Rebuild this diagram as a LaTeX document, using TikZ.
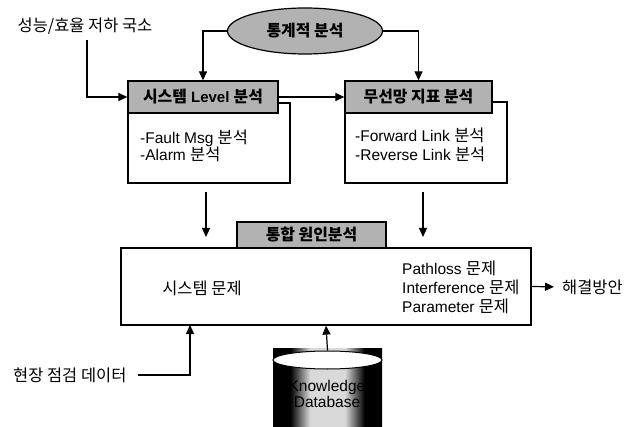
\documentclass[tikz,border=0pt]{standalone}
\usepackage{fontspec}
\setmainfont{Liberation Sans}
\newfontfamily\kr[Scale=1.06]{Noto Sans CJK KR}
\usetikzlibrary{arrows.meta,shapes.geometric,calc}
\newcommand\K[1]{{\kr #1}}
\pgfdeclarehorizontalshading{cylshade}{100bp}{color(0bp)=(black); color(33bp)=(black); color(42bp)=(black!15); color(58bp)=(black!15); color(67bp)=(black); color(100bp)=(black)}
\tikzset{
  arr/.style={line width=1.2pt, -{Triangle[length=9pt,width=8pt]}},
  hdr/.style={draw, line width=1.3pt, fill=black!30, inner sep=0pt, font=\fontsize{15}{19}\selectfont\bfseries},
  bodybox/.style={draw, line width=1.2pt, fill=white, inner sep=0pt},
  txt/.style={inner sep=0pt, align=left, font=\fontsize{15.5}{19}\selectfont},
}
\begin{document}
\begin{tikzpicture}[x=1pt,y=-1pt]
\useasboundingbox (0,0) rectangle (636,427);
% statistical analysis ellipse
\node[ellipse, draw, line width=1.2pt, fill=black!30, minimum width=155, minimum height=46, inner sep=0pt, font=\fontsize{15}{19}\selectfont\bfseries] (stat) at (305,31) {\K{통계적 분석}};
% input text
\node[txt] (in1) at (85,26) {\K{성능/효율 저하 국소}};
\coordinate (in1s) at (87,40);
% box 1
\node[bodybox, minimum width=162, minimum height=80] (b1) at (209,143) {};
\node[hdr, minimum width=150, minimum height=32] (h1) at (203,97) {\K{시스템} Level \K{분석}};
\node[txt, anchor=west] (t1) at (140,146) {-Fault Msg \K{분석}\\[-2pt]-Alarm \K{분석}};
% box 2
\node[bodybox, minimum width=162, minimum height=81] (b2) at (426,142.5) {};
\node[hdr, minimum width=147, minimum height=32] (h2) at (418.5,97) {\K{무선망 지표 분석}};
\node[txt, anchor=west] (t2) at (355,145) {-Forward Link \K{분석}\\-Reverse Link \K{분석}};
% big box
\node[bodybox, minimum width=410, minimum height=77] (B) at (326,286.5) {};
\node[hdr, minimum width=149, minimum height=26] (h3) at (311.5,235) {\K{통합 원인분석}};
\node[txt] (sys) at (202,288) {\K{시스템 문제}};
\node[txt, anchor=west] (prob) at (402,287) {Pathloss \K{문제}\\Interference \K{문제}\\Parameter \K{문제}};
\node[txt, anchor=west] (out) at (562,287) {\K{해결방안}};
% field data
\node[txt, anchor=west] (fd) at (13,375) {\K{현장 점검 데이터}};
\coordinate (fds) at (138,375);
\coordinate (bin) at (190,325);
% cylinder
\shade[shading=cylshade] (273,348) rectangle (382,428);
\node[ellipse, draw, line width=1pt, fill=white, minimum width=109, minimum height=18, inner sep=0pt] (cyl) at (327.5,360) {};
\node[txt, align=center, text=black] (kdb) at (327,394) {Knowledge\\[-3pt]Database};
% down arrows
\coordinate (d1s) at (206,192); \coordinate (d1e) at (206,237);
\coordinate (d2s) at (423,192); \coordinate (d2e) at (423,237);
% connectors
\draw[arr] (stat.west) -| (h1.north);
\draw[arr] (stat.east) -| (h2.north);
\draw[arr] (in1s) |- (h1.west);
\draw[arr] (h1.east) -- (h1.east -| h2.west);
\draw[arr] (d1s) -- (d1e);
\draw[arr] (d2s) -- (d2e);
\draw[arr, shorten >=8pt] (B.east) -- (out.west);
\draw[arr] (fds) -| (bin);
\draw[arr] (cyl.north) -- (B.south);
\end{tikzpicture}
\end{document}
